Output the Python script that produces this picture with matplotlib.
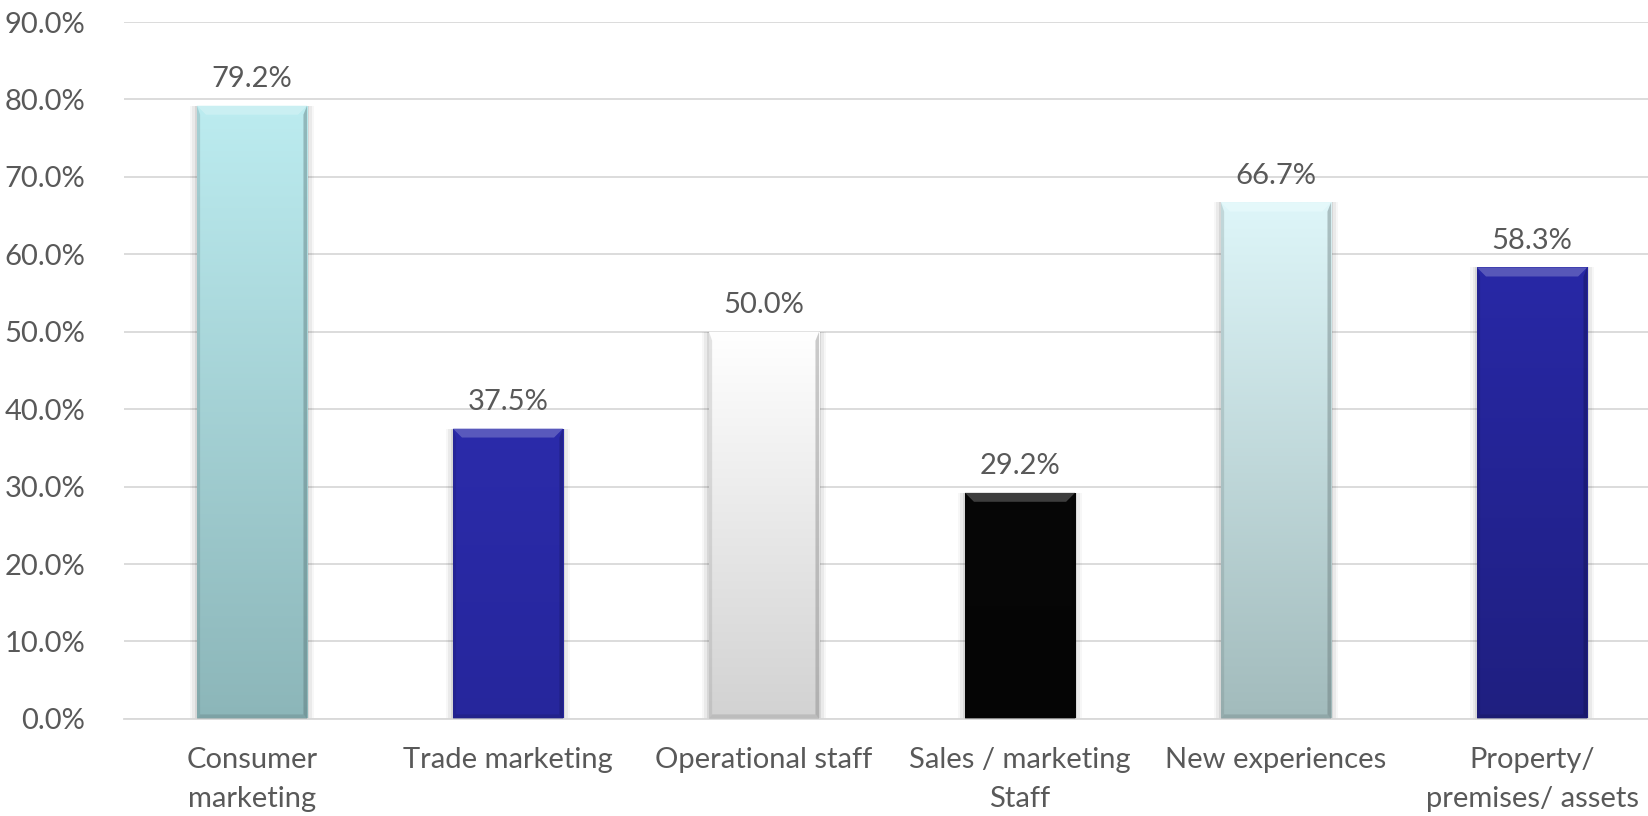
import matplotlib.pyplot as plt
import numpy as np
from matplotlib.colors import LinearSegmentedColormap, to_rgb
from matplotlib.patches import Polygon

CATEGORIES = [
    "Consumer\nmarketing",
    "Trade marketing",
    "Operational staff",
    "Sales / marketing\nStaff",
    "New experiences",
    "Property/\npremises/ assets",
]
VALUES = [79.2, 37.5, 50.0, 29.2, 66.7, 58.3]

# top / bottom colour of each bar's vertical gradient
TOP_COLORS = ["#BCECF0", "#2B2BAA", "#FFFFFF", "#070707", "#DEF6F9", "#2828A6"]
BOTTOM_COLORS = ["#8CB6B9", "#26269C", "#D2D2D2", "#050505", "#A2BBBC", "#1F1F80"]

TEXT = "#595959"
GRID = "#D9D9D9"

plt.rcParams["font.family"] = ["Lato", "DejaVu Sans"]


def shade(color, f):
    r, g, b = to_rgb(color)
    if f >= 0:
        return (r + (1 - r) * f, g + (1 - g) * f, b + (1 - b) * f)
    return (r * (1 + f), g * (1 + f), b * (1 + f))


def bevel_bar(ax, rect, top, bottom, bx, by):
    x0, y0 = rect.get_x(), rect.get_y()
    w, h = rect.get_width(), rect.get_height()
    x1, y1 = x0 + w, y0 + h

    # soft shadow around the bar
    for k, a in zip([3.0, 2.0, 1.0], [0.03, 0.05, 0.08]):
        ax.add_patch(plt.Rectangle((x0 - bx * 0.25 * k, y0 - by * 0.2 * k),
                                   w + bx * 0.5 * k, h + by * 0.2 * k,
                                   facecolor="black", alpha=a, edgecolor="none",
                                   zorder=1.5))

    cmap = LinearSegmentedColormap.from_list("g", [bottom, top])
    grad = np.linspace(0, 1, 256).reshape(-1, 1)
    im = ax.imshow(grad, cmap=cmap, aspect="auto", origin="lower",
                   extent=(x0, x1, y0, y1), zorder=2)
    im.set_clip_path(rect)

    # top highlight bevel
    ax.add_patch(Polygon([(x0, y1), (x1, y1), (x1 - bx, y1 - by), (x0 + bx, y1 - by)],
                         closed=True, facecolor=shade(top, 0.28), edgecolor="none",
                         alpha=0.8, zorder=3))
    # side bevels
    ax.add_patch(Polygon([(x0, y0), (x0, y1), (x0 + bx * 0.35, y1 - by), (x0 + bx * 0.35, y0 + by * 0.5)],
                         closed=True, facecolor=shade(bottom, -0.3), edgecolor="none",
                         alpha=0.25, zorder=3))
    ax.add_patch(Polygon([(x1, y0), (x1, y1), (x1 - bx * 0.4, y1 - by), (x1 - bx * 0.4, y0 + by * 0.5)],
                         closed=True, facecolor=shade(bottom, -0.4), edgecolor="none",
                         alpha=0.4, zorder=3))
    # bottom bevel
    ax.add_patch(Polygon([(x0, y0), (x1, y0), (x1 - bx * 0.4, y0 + by * 0.5), (x0 + bx * 0.35, y0 + by * 0.5)],
                         closed=True, facecolor=shade(bottom, -0.3), edgecolor="none",
                         alpha=0.35, zorder=3))


fig = plt.figure(figsize=(16.49, 8.16), dpi=100)
ax = fig.add_axes([0.0752, 0.119, 0.9315, 0.854])

x = np.arange(len(CATEGORIES))
bars = ax.bar(x, VALUES, width=0.43, color="none", edgecolor="none", zorder=2)

ax.set_xlim(-0.5, len(CATEGORIES) - 0.5)
ax.set_ylim(0, 90)
fig.canvas.draw()

# bevel sizes in data units (~9 px)
px_x = (ax.get_xlim()[1] - ax.get_xlim()[0]) / ax.bbox.width
px_y = (ax.get_ylim()[1] - ax.get_ylim()[0]) / ax.bbox.height
bx, by = 9 * px_x, 9 * px_y

for rect, t, b in zip(bars, TOP_COLORS, BOTTOM_COLORS):
    bevel_bar(ax, rect, t, b, bx, by)

for xi, v in zip(x, VALUES):
    ax.annotate(f"{v:.1f}%", (xi, v), xytext=(0, 10), textcoords="offset points",
                ha="center", va="bottom", fontsize=21, color=TEXT, zorder=5)

ax.set_yticks(np.arange(0, 91, 10))
ax.set_yticklabels([f"{t:.1f}%" for t in np.arange(0, 91, 10)])
ax.set_xticks(x)
ax.set_xticklabels(CATEGORIES, linespacing=1.65)
ax.tick_params(axis="both", length=0, labelsize=21, labelcolor=TEXT)
ax.tick_params(axis="y", pad=28)
ax.tick_params(axis="x", pad=20)

ax.grid(axis="y", color=GRID, linewidth=1.3)
ax.set_axisbelow(True)
for side in ["top", "right", "left"]:
    ax.spines[side].set_visible(False)
ax.spines["bottom"].set_color(GRID)
ax.spines["bottom"].set_linewidth(1.3)

fig.savefig("out.png", dpi=100)
